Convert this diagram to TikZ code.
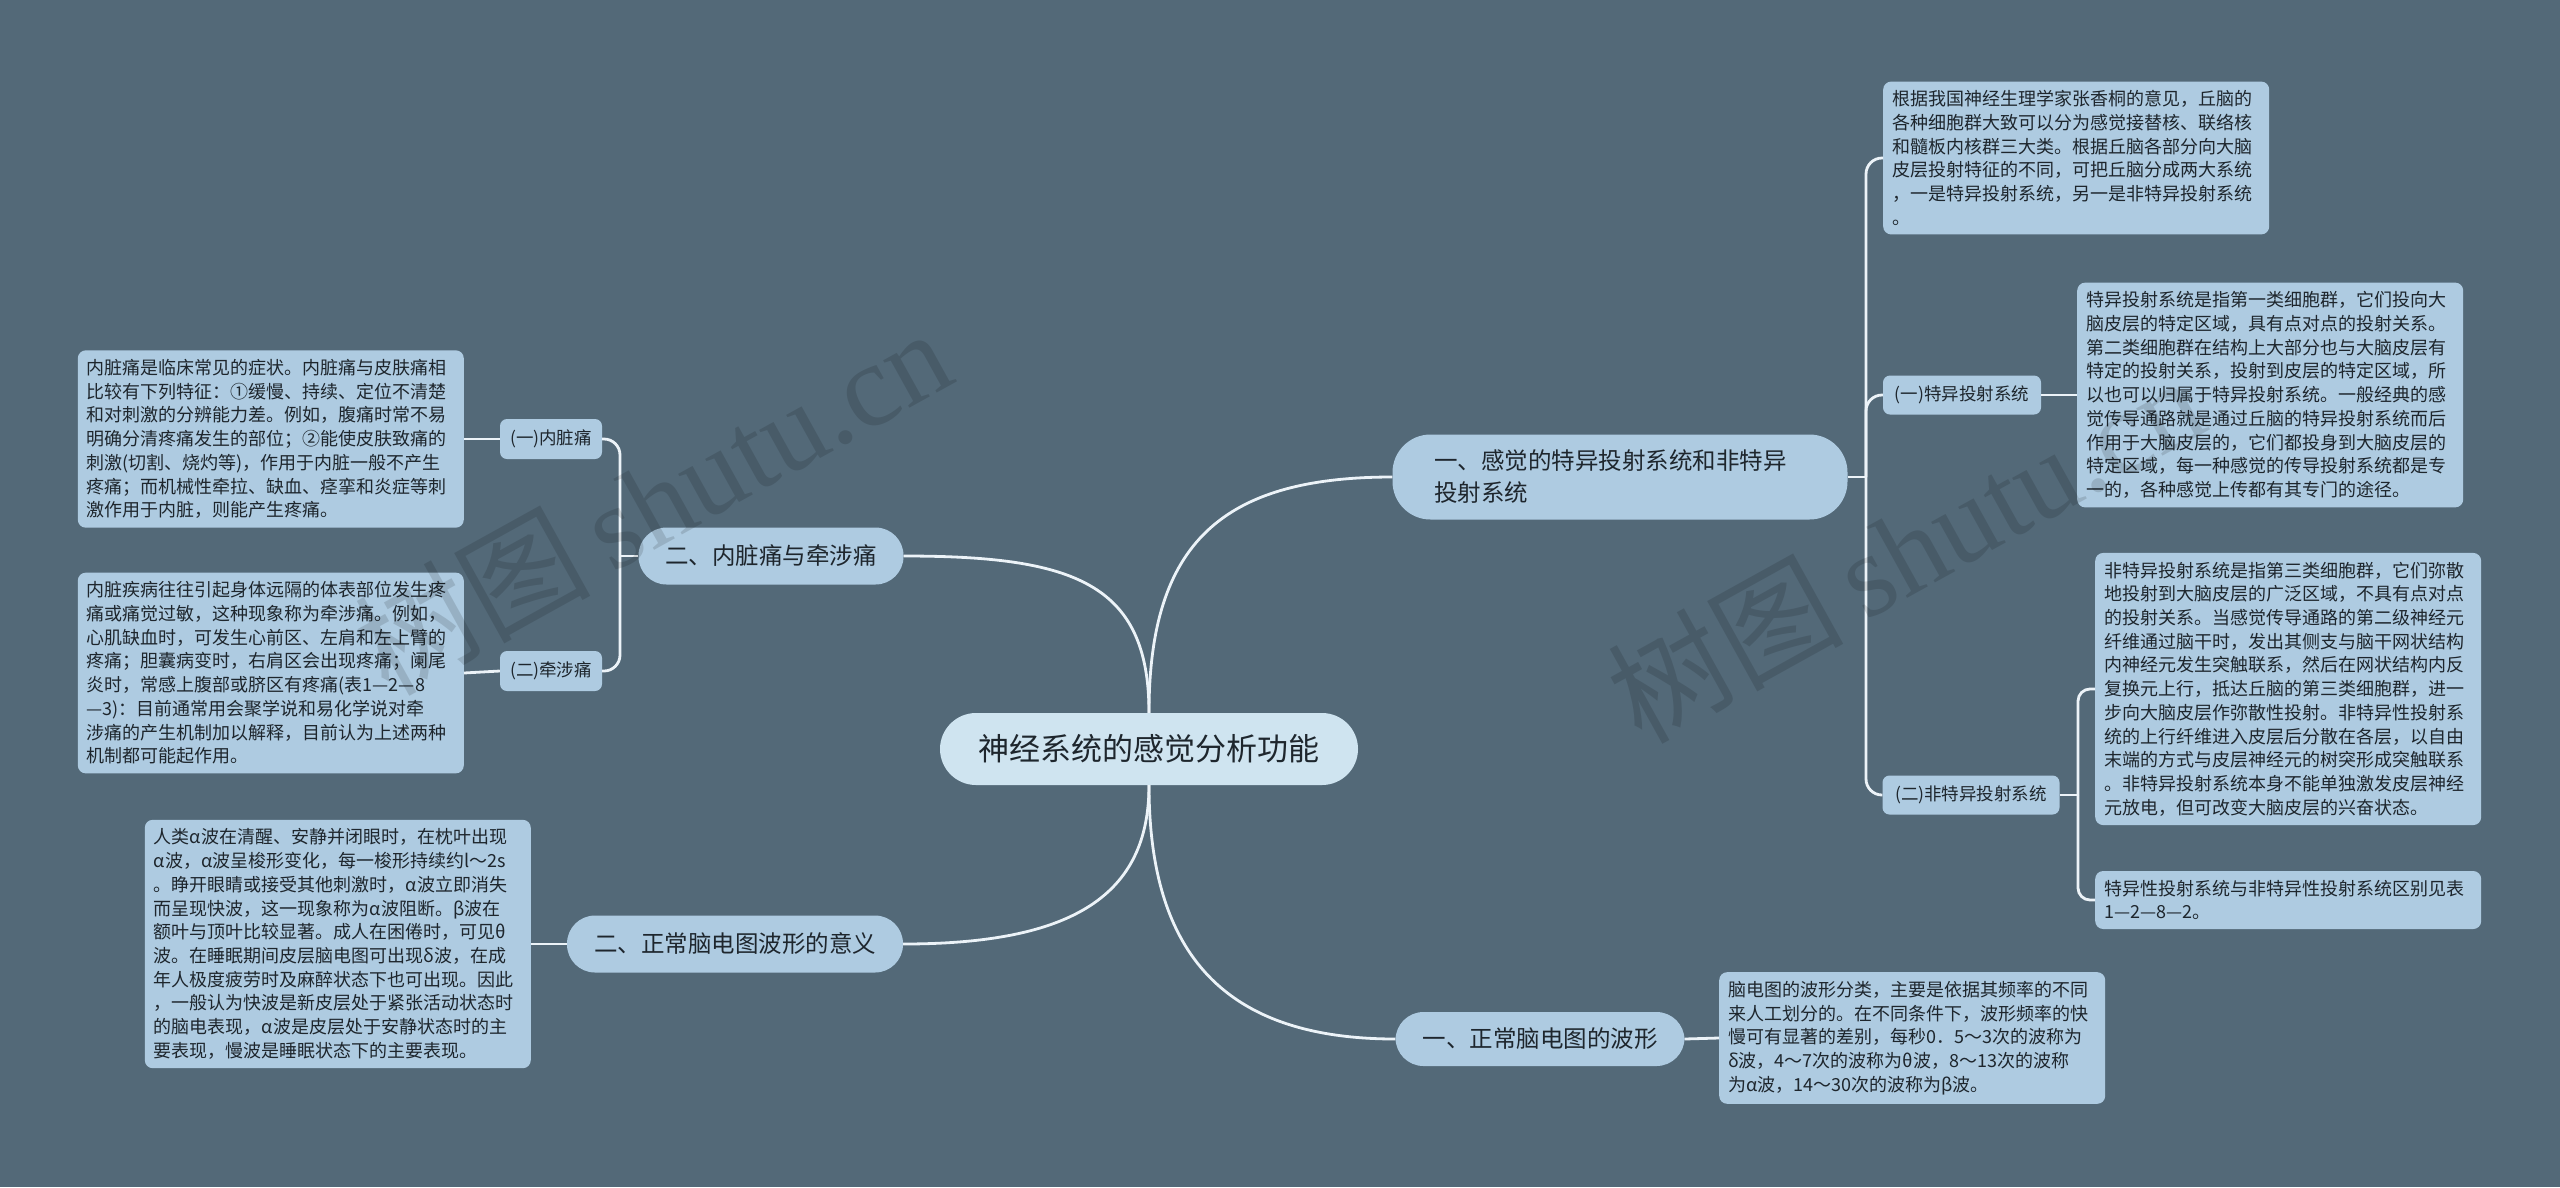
\documentclass[tikz,border=0pt]{standalone}
\usepackage{fontspec}
\setmainfont{Noto Sans CJK SC}
\newfontfamily\wmfont{Liberation Serif}
\definecolor{bgslate}{RGB}{83,105,120}
\definecolor{leafblue}{RGB}{174,203,225}
\definecolor{rootblue}{RGB}{207,228,240}
\definecolor{inkdark}{RGB}{30,38,45}
\definecolor{linkwhite}{RGB}{236,243,248}

\begin{document}
\begin{tikzpicture}[x=1pt,y=1pt,yscale=-1,xscale=1,
  rootnode/.style={fill=rootblue,text=inkdark,rounded corners=36,minimum width=418,minimum height=72,inner sep=0,font=\fontsize{31}{38}\selectfont},
  topicnode/.style={fill=leafblue,text=inkdark,rounded corners=28,minimum height=57,inner sep=0,font=\fontsize{23.5}{32}\selectfont},
  subnode/.style={fill=leafblue,text=inkdark,rounded corners=7,minimum height=39,inner sep=0,font=\fontsize{17.5}{22}\selectfont},
  notebox/.style={fill=leafblue,text=inkdark,rounded corners=8,align=left,text width=368,inner xsep=9,inner ysep=9,font=\fontsize{18}{23.7}\selectfont},
  link/.style={draw=linkwhite,line width=2.8},
  stamp/.style={rotate=29,opacity=0.13,text=black,font=\fontsize{118}{128}\selectfont}]
\useasboundingbox (0,0) rectangle (2560,1187);
%Shape: Background
\fill [bgslate] (0,0) rectangle (2560,1187);

% Text Node
\node [rootnode] (root) at (1149,749) {神经系统的感觉分析功能};
% Text Node
\node [topicnode,minimum width=455,minimum height=85,rounded corners=38,align=left,text width=372] (sense) at (1620,477) {一、感觉的特异投射系统和非特异\\投射系统};
% Text Node
\node [topicnode,minimum width=265] (pain) at (771,556) {二、内脏痛与牵涉痛};
% Text Node
\node [topicnode,minimum width=336] (meaning) at (735,944) {二、正常脑电图波形的意义};
% Text Node
\node [topicnode,minimum width=289,minimum height=54] (wave) at (1540,1039) {一、正常脑电图的波形};

% Text Node
\node [subnode,minimum width=158] (specific) at (1962,395) {(一)特异投射系统};
% Text Node
\node [subnode,minimum width=177] (nonspec) at (1971,795) {(二)非特异投射系统};
% Text Node
\node [subnode,minimum width=102,minimum height=40] (visceral) at (551,439) {(一)内脏痛};
% Text Node
\node [subnode,minimum width=102,minimum height=40] (referred) at (551,671) {(二)牵涉痛};

% Text Node
\node [notebox,anchor=west] (thalamus) at (1883,158) {根据我国神经生理学家张香桐的意见，丘脑的\\各种细胞群大致可以分为感觉接替核、联络核\\和髓板内核群三大类。根据丘脑各部分向大脑\\皮层投射特征的不同，可把丘脑分成两大系统\\，一是特异投射系统，另一是非特异投射系统\\。};
% Text Node
\node [notebox,anchor=west] (specnote) at (2077,395) {特异投射系统是指第一类细胞群，它们投向大\\脑皮层的特定区域，具有点对点的投射关系。\\第二类细胞群在结构上大部分也与大脑皮层有\\特定的投射关系，投射到皮层的特定区域，所\\以也可以归属于特异投射系统。一般经典的感\\觉传导通路就是通过丘脑的特异投射系统而后\\作用于大脑皮层的，它们都投身到大脑皮层的\\特定区域，每一种感觉的传导投射系统都是专\\一的，各种感觉上传都有其专门的途径。};
% Text Node
\node [notebox,anchor=west] (nonnote) at (2095,689) {非特异投射系统是指第三类细胞群，它们弥散\\地投射到大脑皮层的广泛区域，不具有点对点\\的投射关系。当感觉传导通路的第二级神经元\\纤维通过脑干时，发出其侧支与脑干网状结构\\内神经元发生突触联系，然后在网状结构内反\\复换元上行，抵达丘脑的第三类细胞群，进一\\步向大脑皮层作弥散性投射。非特异性投射系\\统的上行纤维进入皮层后分散在各层，以自由\\末端的方式与皮层神经元的树突形成突触联系\\。非特异投射系统本身不能单独激发皮层神经\\元放电，但可改变大脑皮层的兴奋状态。};
% Text Node
\node [notebox,anchor=west] (tablenote) at (2095,900) {特异性投射系统与非特异性投射系统区别见表\\1—2—8—2。};
% Text Node
\node [notebox,anchor=west] (wavenote) at (1719,1038) {脑电图的波形分类，主要是依据其频率的不同\\来人工划分的。在不同条件下，波形频率的快\\慢可有显著的差别，每秒0．5～3次的波称为\\δ波，4～7次的波称为θ波，8～13次的波称\\为α波，14～30次的波称为β波。};
% Text Node
\node [notebox,anchor=east] (viscnote) at (464,439) {内脏痛是临床常见的症状。内脏痛与皮肤痛相\\比较有下列特征：①缓慢、持续、定位不清楚\\和对刺激的分辨能力差。例如，腹痛时常不易\\明确分清疼痛发生的部位；②能使皮肤致痛的\\刺激(切割、烧灼等)，作用于内脏一般不产生\\疼痛；而机械性牵拉、缺血、痉挛和炎症等刺\\激作用于内脏，则能产生疼痛。};
% Text Node
\node [notebox,anchor=east] (refnote) at (464,673) {内脏疾病往往引起身体远隔的体表部位发生疼\\痛或痛觉过敏，这种现象称为牵涉痛。例如，\\心肌缺血时，可发生心前区、左肩和左上臂的\\疼痛；胆囊病变时，右肩区会出现疼痛；阑尾\\炎时，常感上腹部或脐区有疼痛(表1—2—8\\—3)：目前通常用会聚学说和易化学说对牵\\涉痛的产生机制加以解释，目前认为上述两种\\机制都可能起作用。};
% Text Node
\node [notebox,anchor=east] (alphanote) at (531,944) {人类α波在清醒、安静并闭眼时，在枕叶出现\\α波，α波呈梭形变化，每一梭形持续约l～2s\\。睁开眼睛或接受其他刺激时，α波立即消失\\而呈现快波，这一现象称为α波阻断。β波在\\额叶与顶叶比较显著。成人在困倦时，可见θ\\波。在睡眠期间皮层脑电图可出现δ波，在成\\年人极度疲劳时及麻醉状态下也可出现。因此\\，一般认为快波是新皮层处于紧张活动状态时\\的脑电表现，α波是皮层处于安静状态时的主\\要表现，慢波是睡眠状态下的主要表现。};

%Curve Lines
\draw [link] (root.north) .. controls +(0,-170) and +(-170,0) .. (sense.west);
\draw [link] (root.north) .. controls +(0,-130) and +(170,0) .. (pain.east);
\draw [link] (root.south) .. controls +(0,110) and +(170,0) .. (meaning.east);
\draw [link] (root.south) .. controls +(0,170) and +(-170,0) .. (wave.west);

% junctions
\coordinate (jsense) at (1866,477);
\coordinate (jnon) at (2078,795);
\coordinate (jpain) at (620,556);
\draw [link] (sense.east) -- (jsense);
\draw [link,rounded corners=16] (jsense) |- (thalamus.west);
\draw [link,rounded corners=16] (jsense) |- (specific.west);
\draw [link,rounded corners=16] (jsense) |- (nonspec.west);
\draw [link] (nonspec.east) -- (jnon);
\draw [link,rounded corners=12] (jnon) |- (nonnote.west);
\draw [link,rounded corners=12] (jnon) |- (tablenote.west);
\draw [link] (pain.west) -- (jpain);
\draw [link,rounded corners=16] (jpain) |- (visceral.east);
\draw [link,rounded corners=16] (jpain) |- (referred.east);

%Straight Lines
\draw [link] (specific.east) -- (specnote.west);
\draw [link] (visceral.west) -- (viscnote.east);
\draw [link] (referred.west) -- (refnote.east);
\draw [link] (meaning.west) -- (alphanote.east);
\draw [link] (wave.east) -- (wavenote.west);

% Watermark
\node [stamp] (wmleft) at (652,500) {树图\,{\wmfont shutu.cn}};
\node [stamp] (wmright) at (1905,548) {树图\,{\wmfont shutu.cn}};

\end{tikzpicture}
\end{document}
